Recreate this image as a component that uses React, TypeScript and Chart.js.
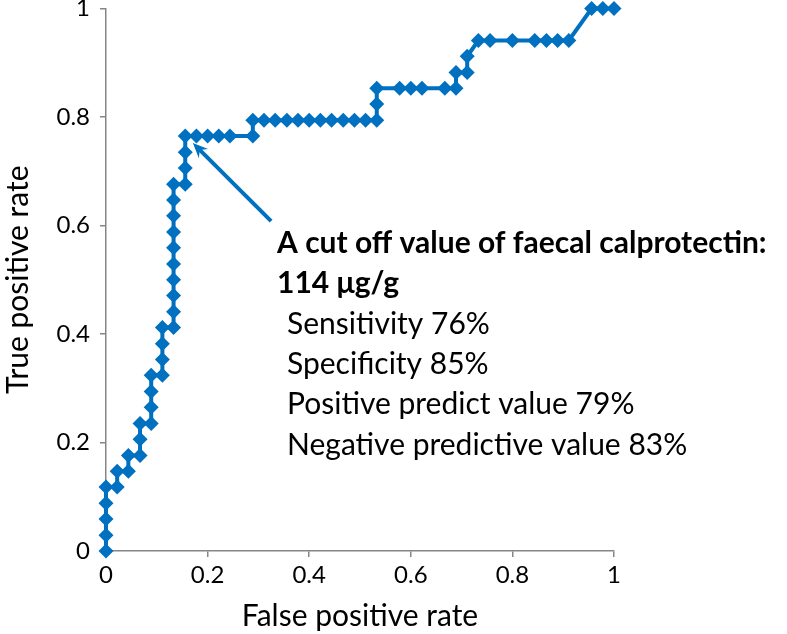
import React, { useEffect, useRef } from "react";
import { Chart, registerables } from "chart.js";

Chart.register(...registerables);

// False positive rate (x) and true positive rate (y) of the ROC curve
const fpr = [
  0, 0, 0, 0, 0, 0.022, 0.022, 0.044, 0.044, 0.067, 0.067, 0.067, 0.089, 0.089, 0.089, 0.089,
  0.111, 0.111, 0.111, 0.111, 0.133, 0.133, 0.133, 0.133, 0.133, 0.133, 0.133, 0.133, 0.133, 0.133,
  0.156, 0.156, 0.156, 0.156, 0.178, 0.2, 0.222, 0.244, 0.289, 0.289,
  0.311, 0.333, 0.356, 0.378, 0.4, 0.422, 0.444, 0.467, 0.489, 0.511, 0.533, 0.533, 0.533,
  0.578, 0.6, 0.622, 0.667, 0.689, 0.689, 0.711, 0.711, 0.733, 0.756, 0.8, 0.844, 0.867, 0.889, 0.911,
  0.956, 0.978, 1,
];
const tpr = [
  0, 0.029, 0.059, 0.088, 0.118, 0.118, 0.147, 0.147, 0.176, 0.176, 0.206, 0.235, 0.235, 0.265, 0.294, 0.324,
  0.324, 0.353, 0.382, 0.412, 0.412, 0.441, 0.471, 0.5, 0.529, 0.559, 0.588, 0.618, 0.647, 0.676,
  0.676, 0.706, 0.735, 0.765, 0.765, 0.765, 0.765, 0.765, 0.765, 0.794,
  0.794, 0.794, 0.794, 0.794, 0.794, 0.794, 0.794, 0.794, 0.794, 0.794, 0.794, 0.824, 0.853,
  0.853, 0.853, 0.853, 0.853, 0.853, 0.882, 0.882, 0.912, 0.941, 0.941, 0.941, 0.941, 0.941, 0.941, 0.941,
  1, 1, 1,
];

const axisMin = 0;
const axisMax = 1;
const axisStep = 0.2;
const xTitle = "False positive rate";
const yTitle = "True positive rate";

const annotationBold = ["A cut off value of faecal calprotectin:", "114 μg/g"];
const annotationLines = [
  "Sensitivity 76%",
  "Specificity 85%",
  "Positive predict value 79%",
  "Negative predictive value 83%",
];
// arrow in data coordinates
const arrowTail = { x: 0.325, y: 0.608 };
const arrowTip = { x: 0.171, y: 0.752 };

const BLUE = "#0070C0";
const AXIS = "#868686";
const FONT = "Lato, 'Open Sans', sans-serif";

const annotationPlugin = {
  id: "rocAnnotation",
  afterDraw(chart: any) {
    const { ctx, scales } = chart;
    const xs = scales.x;
    const ys = scales.y;
    const tx = xs.getPixelForValue(arrowTail.x);
    const ty = ys.getPixelForValue(arrowTail.y);
    const hx = xs.getPixelForValue(arrowTip.x);
    const hy = ys.getPixelForValue(arrowTip.y);
    const ang = Math.atan2(hy - ty, hx - tx);
    const headLen = 15;
    const headW = 6.5;
    ctx.save();
    ctx.strokeStyle = BLUE;
    ctx.fillStyle = BLUE;
    ctx.lineWidth = 4;
    ctx.lineCap = "butt";
    ctx.beginPath();
    ctx.moveTo(tx, ty);
    ctx.lineTo(hx - Math.cos(ang) * headLen * 0.6, hy - Math.sin(ang) * headLen * 0.6);
    ctx.stroke();
    const bx = hx - Math.cos(ang) * headLen;
    const by = hy - Math.sin(ang) * headLen;
    const px = -Math.sin(ang);
    const py = Math.cos(ang);
    const ix = hx - Math.cos(ang) * headLen * 0.65;
    const iy = hy - Math.sin(ang) * headLen * 0.65;
    ctx.beginPath();
    ctx.moveTo(hx, hy);
    ctx.lineTo(bx + px * headW, by + py * headW);
    ctx.lineTo(ix, iy);
    ctx.lineTo(bx - px * headW, by - py * headW);
    ctx.closePath();
    ctx.fill();

    ctx.fillStyle = "#000";
    ctx.textAlign = "left";
    ctx.textBaseline = "alphabetic";
    ctx.font = `bold 30px ${FONT}`;
    annotationBold.forEach((t, i) => ctx.fillText(t, 277, 253 + i * 40.2));
    ctx.font = `30px ${FONT}`;
    annotationLines.forEach((t, i) => ctx.fillText(t, 287, 334 + i * 40.2));
    ctx.restore();
  },
};

function fmt(v: number) {
  return String(Math.round(v * 10) / 10);
}

export default function App() {
  const ref = useRef<HTMLCanvasElement | null>(null);
  useEffect(() => {
    if (!ref.current) return;
    const points = fpr.map((x, i) => ({ x, y: tpr[i] }));
    const chart = new Chart(ref.current, {
      type: "scatter",
      data: {
        datasets: [
          {
            data: points,
            showLine: true,
            borderColor: BLUE,
            backgroundColor: BLUE,
            borderWidth: 4,
            pointStyle: "rectRot",
            pointRadius: 7.5,
            pointBorderWidth: 0,
            pointBackgroundColor: BLUE,
            clip: false,
          } as any,
        ],
      },
      options: {
        animation: false,
        responsive: true,
        maintainAspectRatio: false,
        layout: { padding: { left: 0, top: 8.5, right: 173, bottom: 0 } },
        plugins: { legend: { display: false }, tooltip: { enabled: false } },
        scales: {
          x: {
            type: "linear",
            min: axisMin,
            max: axisMax,
            ticks: {
              stepSize: axisStep,
              color: "#000",
              font: { family: FONT, size: 24 },
              padding: 4,
              maxRotation: 0,
              callback: (v: any) => fmt(Number(v)),
            },
            grid: { display: true, drawOnChartArea: false, drawTicks: true, tickLength: 6, color: AXIS, lineWidth: 1.5 },
            border: { display: true, color: AXIS, width: 1.5 },
            title: {
              display: true,
              text: xTitle,
              color: "#000",
              font: { family: FONT, size: 30 },
              padding: { top: 0, bottom: 0 },
            },
            afterFit: (s: any) => {
              s.height = 83;
              s.paddingLeft = 0;
              s.paddingRight = 0;
            },
          },
          y: {
            type: "linear",
            min: axisMin,
            max: axisMax,
            ticks: {
              stepSize: axisStep,
              color: "#000",
              font: { family: FONT, size: 24 },
              padding: 10,
              callback: (v: any) => fmt(Number(v)),
            },
            grid: { display: true, drawOnChartArea: false, drawTicks: true, tickLength: 6, color: AXIS, lineWidth: 1.5 },
            border: { display: true, color: AXIS, width: 1.5 },
            title: {
              display: true,
              text: yTitle,
              color: "#000",
              font: { family: FONT, size: 30 },
              padding: { top: 0, bottom: 0 },
            },
            afterFit: (s: any) => {
              s.width = 106;
              s.paddingTop = 0;
              s.paddingBottom = 0;
            },
          },
        },
      },
      plugins: [annotationPlugin],
    });
    return () => chart.destroy();
  }, []);
  return (
    <div style={{ position: "absolute", left: 0, top: 0, width: 787, height: 634 }}>
      <canvas ref={ref} />
    </div>
  );
}
